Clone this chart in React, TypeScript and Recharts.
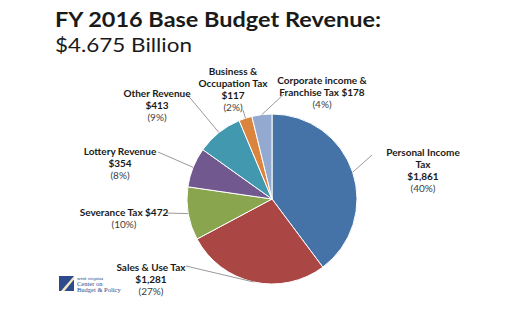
import React from "react";
import { PieChart, Pie, Cell } from "recharts";

const categories = [
  "Personal Income Tax",
  "Sales & Use Tax",
  "Severance Tax",
  "Lottery Revenue",
  "Other Revenue",
  "Business & Occupation Tax",
  "Corporate income & Franchise Tax",
];
const amounts = [1861, 1281, 472, 354, 413, 117, 178];
const percentLabels = ["(40%)", "(27%)", "(10%)", "(8%)", "(9%)", "(2%)", "(4%)"];
const boldLines = [
  ["Personal Income", "Tax", "$1,861"],
  ["Sales & Use Tax", "$1,281"],
  ["Severance Tax $472"],
  ["Lottery Revenue", "$354"],
  ["Other Revenue", "$413"],
  ["Business &", "Occupation Tax", "$117"],
  ["Corporate income &", "Franchise Tax $178"],
];
const colors = ["#4572A7", "#AA4643", "#89A54E", "#71588F", "#4198AF", "#DB843D", "#93A9CF"];

// label block centre x / first baseline, and leader line end point
const labelLayout = [
  { tx: 423, ty: 156, lx: 372, ly: 155 },
  { tx: 151, ty: 271, lx: 186, ly: 266 },
  { tx: 124, ty: 216, lx: 166, ly: 213 },
  { tx: 120, ty: 155, lx: 158, ly: 152 },
  { tx: 157, ty: 97, lx: 186, ly: 93 },
  { tx: 233, ty: 75, lx: 243, ly: 110 },
  { tx: 322, ty: 84, lx: 284, ly: 94 },
];

const data = categories.map((name, i) => ({ name, value: amounts[i] }));
const FONT = "Lato, 'Open Sans', sans-serif";

const renderLabel = (props: any) => {
  const { cx, cy, midAngle, outerRadius, index } = props;
  const rad = Math.PI / 180;
  const sx = cx + outerRadius * Math.cos(-midAngle * rad);
  const sy = cy + outerRadius * Math.sin(-midAngle * rad);
  const lay = labelLayout[index];
  const lines = boldLines[index];
  return (
    <g>
      <line x1={sx} y1={sy} x2={lay.lx} y2={lay.ly} stroke="#9a9a9a" strokeWidth={1} />
      <text x={lay.tx} y={lay.ty} textAnchor="middle" fontFamily={FONT} fontSize={10}>
        {lines.map((t, j) => (
          <tspan key={j} x={lay.tx} dy={j === 0 ? 0 : 12} fontWeight="bold" fill="#1a1a1a">
            {t}
          </tspan>
        ))}
        <tspan x={lay.tx} dy={12} fill="#404040">
          {percentLabels[index]}
        </tspan>
      </text>
    </g>
  );
};

export default function App() {
  return (
    <div style={{ position: "absolute", left: 0, top: 0, width: 525, height: 326, background: "#fff" }}>
      <PieChart width={525} height={326} margin={{ top: 0, right: 0, bottom: 0, left: 0 }}>
        <Pie
          data={data}
          dataKey="value"
          nameKey="name"
          cx={272}
          cy={199}
          outerRadius={85}
          startAngle={90}
          endAngle={-270}
          stroke="#ffffff"
          strokeWidth={1}
          label={renderLabel}
          labelLine={false}
          isAnimationActive={false}
        >
          {data.map((d, i) => (
            <Cell key={d.name} fill={colors[i]} />
          ))}
        </Pie>
      </PieChart>
      <svg width={525} height={326} style={{ position: "absolute", left: 0, top: 0, pointerEvents: "none" }}>
        <text
          x={55}
          y={27}
          fontFamily={FONT}
          fontSize={20}
          fontWeight="bold"
          fill="#1a1a1a"
          textLength={326}
          lengthAdjust="spacingAndGlyphs"
        >
          FY 2016 Base Budget Revenue:
        </text>
        <text
          x={55}
          y={52}
          fontFamily={FONT}
          fontSize={20}
          fill="#1a1a1a"
          textLength={137}
          lengthAdjust="spacingAndGlyphs"
        >
          $4.675 Billion
        </text>
        <g>
          <rect x={59} y={276} width={15} height={15} fill="#2c4a8c" />
          <path d="M61 291 L74 276 L74 279.5 L64.5 291 Z" fill="#f3e6c0" />
          <text x={77} y={280} fontFamily="'DejaVu Serif', serif" fontSize={4} fill="#2c4a8c">
            west virginia
          </text>
          <text x={77} y={285.5} fontFamily="'Liberation Serif', serif" fontSize={6.5} fill="#2c4a8c">
            Center on
          </text>
          <text x={77} y={291.5} fontFamily="'Liberation Serif', serif" fontSize={6.5} fill="#2c4a8c">
            Budget &amp; Policy
          </text>
        </g>
      </svg>
    </div>
  );
}
